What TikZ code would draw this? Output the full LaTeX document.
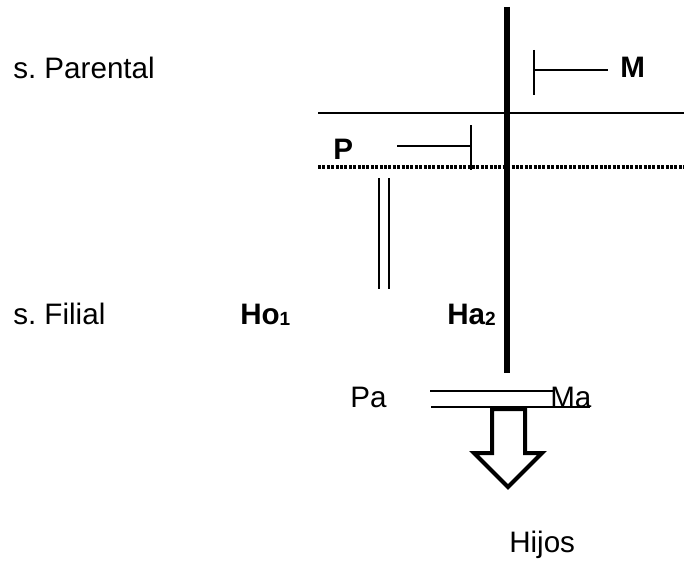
\documentclass[tikz,border=0pt]{standalone}
\usepackage{fontspec}
\setmainfont{Liberation Sans}
\frenchspacing
\begin{document}
\begin{tikzpicture}[x=0.75pt,y=-0.75pt,
  lbl/.style={anchor=base west,inner sep=0pt,font=\fontsize{22.2}{26}\selectfont},
  blbl/.style={lbl,font=\fontsize{22.2}{26}\selectfont\bfseries},
  thin line/.style={line width=1.2pt},
  bar/.style={line width=1.1pt},
  thick line/.style={line width=3.8pt},
  dotline/.style={line width=2.3pt,dash pattern=on 2.2pt off 1.1pt},
  blockarrow/.style={line width=3pt,line join=miter,fill=white}]
\useasboundingbox (0,0) rectangle (684,560);
% labels
\node[lbl] (sp) at (13,79) {s. Parental};
\node[lbl] (sf) at (13,324) {s. Filial};
\node[blbl] (ho) at (240,324) {Ho{\fontsize{14.3}{16}\selectfont\raisebox{-1pt}{1}}};
\node[blbl] (ha) at (447,324) {Ha{\fontsize{14.3}{16}\selectfont\raisebox{-1pt}{2}}};
\node[blbl] (m) at (620,78) {M};
\node[blbl] (p) at (333,159) {P};
\node[lbl] (pa) at (350,407) {Pa};
\node[lbl] (ma) at (550,407) {Ma};
\node[lbl] (hijos) at (509,552) {Hijos};
% coordinates
\coordinate (vt) at (507,7);
\coordinate (vb) at (507,373);
\coordinate (hl) at (318,113);
\coordinate (hr) at (684,113);
\coordinate (dl) at (318,167);
\coordinate (dr) at (684,167);
\coordinate (mb1) at (534,50);
\coordinate (mb2) at (534,95);
\coordinate (mh1) at (534,70);
\coordinate (mh2) at (608,70);
\coordinate (ph1) at (397,146);
\coordinate (ph2) at (471,146);
\coordinate (pb1) at (471,125);
\coordinate (pb2) at (471,170);
\coordinate (d1t) at (379,178);
\coordinate (d1b) at (379,289);
\coordinate (d2t) at (389,178);
\coordinate (d2b) at (389,289);
\coordinate (l1a) at (430,391);
\coordinate (l1b) at (555,391);
\coordinate (l2a) at (431,407);
\coordinate (l2b) at (590,407);
% lines
\draw[thin line] (hl) -- (hr);
\draw[dotline] (dl) -- (dr);
\draw[bar] (mb1) -- (mb2);
\draw[bar] (mh1) -- (mh2);
\draw[bar] (ph1) -- (ph2);
\draw[bar] (pb1) -- (pb2);
\draw[bar] (d1t) -- (d1b);
\draw[bar] (d2t) -- (d2b);
\draw[thick line] (vt) -- (vb);
\draw[bar] (l1a) -- (l1b);
\draw[bar] (l2a) -- (l2b);
% block arrow
\draw[blockarrow] (492,409) -- (525,409) -- (525,453) -- (542,453) -- (508,487) -- (474,453) -- (492,453) -- cycle;
\end{tikzpicture}
\end{document}
